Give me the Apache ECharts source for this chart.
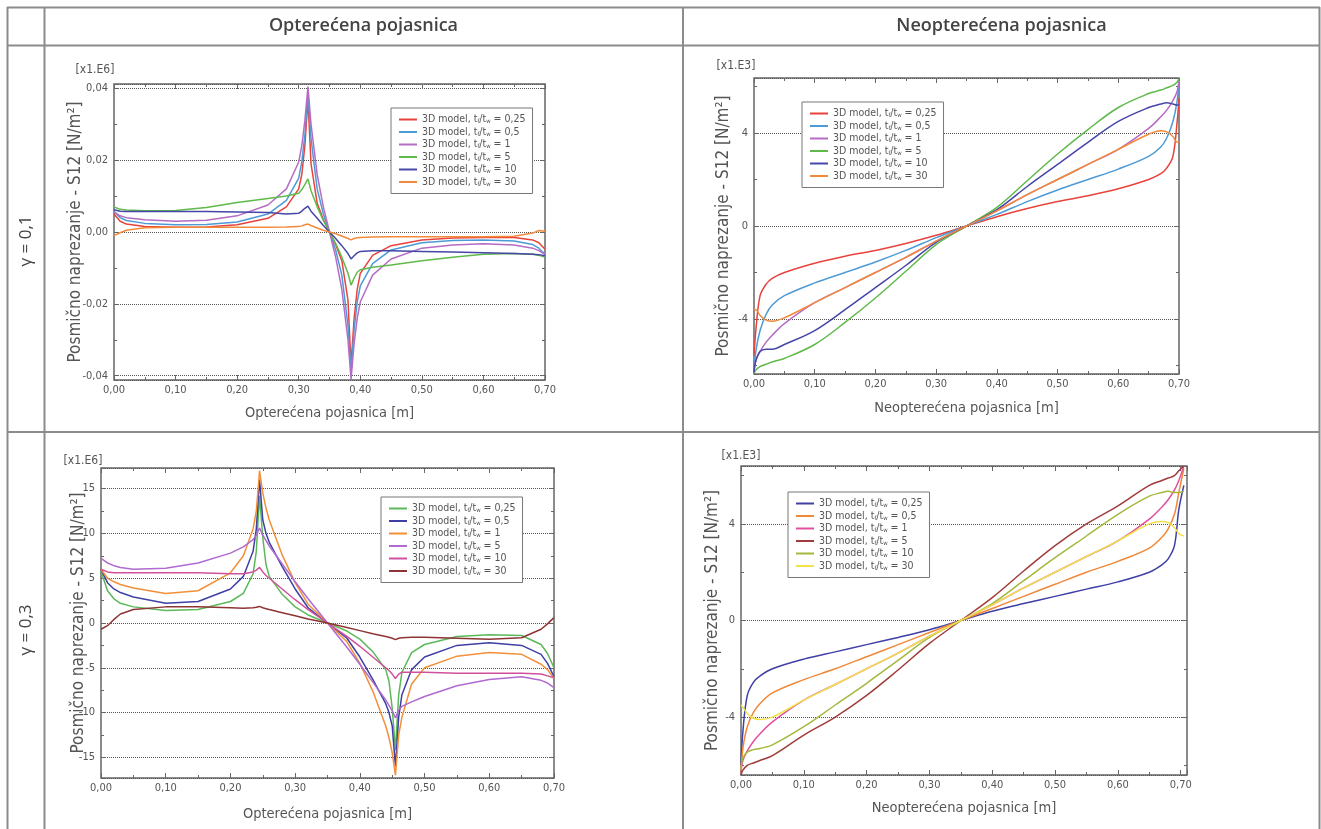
<!DOCTYPE html>
<html><head><meta charset="utf-8">
<script src="https://cdn.jsdelivr.net/npm/echarts@6/dist/echarts.min.js"></script>
<style>html,body{margin:0;padding:0;background:#fff;}#c{width:1321px;height:829px;}</style>
</head><body><div id="c"></div>
<script>
// ---------- DATA ----------
const ratioLabels = ['0,25', '0,5', '1', '5', '10', '30'];
const xTickLabels = ['0,00', '0,10', '0,20', '0,30', '0,40', '0,50', '0,60', '0,70'];

// Panel 1: γ = 0,1, Opterećena pojasnica (x1.E6)
const p1X = [0,0.01,0.02,0.05,0.1,0.15,0.2,0.25,0.28,0.3,0.305,0.31,0.315,0.32,0.33,0.34,0.35,0.36,0.37,0.38,0.385,0.39,0.395,0.4,0.42,0.45,0.5,0.55,0.6,0.65,0.68,0.69,0.7];
const p1_025 = [0.0050,0.0030,0.0022,0.0015,0.0013,0.0014,0.0020,0.0038,0.0070,0.0120,0.0160,0.0240,0.0370,0.0190,0.0080,0.0035,0,-0.0035,-0.0080,-0.0190,-0.0370,-0.0240,-0.0160,-0.0115,-0.0065,-0.0038,-0.0022,-0.0017,-0.0015,-0.0015,-0.0022,-0.0030,-0.0048];
const p1_05 = [0.0058,0.0040,0.0032,0.0024,0.0020,0.0021,0.0028,0.0050,0.0088,0.0150,0.0195,0.0270,0.0385,0.0260,0.0120,0.0050,0,-0.0050,-0.0120,-0.0260,-0.0385,-0.0270,-0.0195,-0.0150,-0.0088,-0.0050,-0.0030,-0.0024,-0.0022,-0.0025,-0.0035,-0.0045,-0.0062];
const p1_1 = [0.0055,0.0045,0.0040,0.0034,0.0030,0.0033,0.0045,0.0075,0.0120,0.0195,0.0240,0.0310,0.0405,0.0300,0.0160,0.0070,0,-0.0070,-0.0160,-0.0300,-0.0410,-0.0310,-0.0240,-0.0195,-0.0120,-0.0075,-0.0045,-0.0036,-0.0033,-0.0036,-0.0045,-0.0052,-0.0062];
const p1_5 = [0.0070,0.0063,0.0061,0.0059,0.0060,0.0068,0.0082,0.0093,0.0100,0.0108,0.0118,0.0132,0.0148,0.0115,0.0070,0.0032,0,-0.0032,-0.0070,-0.0115,-0.0148,-0.0128,-0.0112,-0.0105,-0.0098,-0.0092,-0.0080,-0.0070,-0.0062,-0.0060,-0.0062,-0.0065,-0.0070];
const p1_10 = [0.0062,0.0058,0.0057,0.0057,0.0057,0.0057,0.0056,0.0054,0.0050,0.0052,0.0058,0.0066,0.0072,0.0058,0.0038,0.0018,0,-0.0018,-0.0038,-0.0060,-0.0075,-0.0066,-0.0058,-0.0054,-0.0052,-0.0052,-0.0054,-0.0056,-0.0058,-0.0060,-0.0062,-0.0063,-0.0066];
const p1_30 = [-0.0010,-0.0002,0.0005,0.0012,0.0013,0.0013,0.0013,0.0013,0.0014,0.0015,0.0017,0.0020,0.0022,0.0018,0.0011,0.0005,0,-0.0005,-0.0011,-0.0018,-0.0022,-0.0018,-0.0016,-0.0015,-0.0014,-0.0013,-0.0013,-0.0013,-0.0013,-0.0012,-0.0003,0.0004,0.0002];

// Panel 2: γ = 0,1, Neopterećena pojasnica (x1.E3)
const p2X = [0,0.003,0.01,0.02,0.03,0.05,0.1,0.15,0.2,0.25,0.3,0.35,0.4,0.45,0.5,0.55,0.6,0.65,0.67,0.68,0.69,0.697,0.7];
const p2_025 = [-5.6,-4.5,-3.0,-2.5,-2.25,-2.0,-1.6,-1.3,-1.05,-0.75,-0.4,0,0.4,0.75,1.05,1.3,1.6,2.0,2.25,2.5,3.0,4.5,5.5];
const p2_05 = [-6.3,-5.4,-4.5,-3.8,-3.4,-3.0,-2.45,-2.0,-1.55,-1.05,-0.5,0,0.5,1.05,1.55,2.0,2.45,3.0,3.4,3.8,4.5,5.4,6.3];
const p2_1 = [-6.3,-5.8,-5.4,-5.0,-4.7,-4.2,-3.3,-2.65,-2.0,-1.35,-0.65,0,0.65,1.35,2.0,2.65,3.3,4.2,4.7,5.0,5.4,5.8,6.3];
const p2_5 = [-6.35,-6.2,-6.05,-5.95,-5.85,-5.7,-5.1,-4.15,-3.1,-1.95,-0.8,0,0.8,1.95,3.1,4.15,5.1,5.7,5.85,5.95,6.05,6.2,6.35];
const p2_10 = [-6.3,-5.8,-5.4,-5.3,-5.3,-5.1,-4.5,-3.6,-2.65,-1.7,-0.7,0,0.7,1.7,2.65,3.6,4.5,5.1,5.25,5.3,5.25,5.2,5.25];
const p2_30 = [-3.6,-3.6,-3.85,-4.05,-4.1,-3.95,-3.3,-2.65,-2.0,-1.35,-0.65,0,0.65,1.35,2.0,2.65,3.3,3.95,4.1,4.05,3.85,3.6,3.6];

// Panel 3: γ = 0,3, Opterećena pojasnica (x1.E6)
const p3X = [0,0.01,0.02,0.03,0.05,0.1,0.15,0.2,0.22,0.235,0.24,0.245,0.25,0.255,0.26,0.28,0.3,0.32,0.35,0.38,0.4,0.42,0.44,0.445,0.45,0.455,0.46,0.465,0.48,0.5,0.55,0.6,0.65,0.68,0.69,0.7];
const p3_025 = [5.8,3.6,2.7,2.2,1.8,1.4,1.5,2.4,3.3,5.5,8.0,14.2,9.5,6.5,5.2,3.2,1.8,0.9,0,-0.9,-1.8,-3.2,-5.2,-6.5,-9.5,-14.2,-8.0,-5.5,-3.3,-2.4,-1.5,-1.3,-1.4,-2.4,-3.4,-5.0];
const p3_05 = [6.0,4.5,3.8,3.4,2.9,2.2,2.4,3.8,5.2,8.0,10.5,16.0,11.5,10.0,9.0,6.3,3.8,1.7,0,-1.7,-3.8,-6.3,-9.0,-10.0,-11.5,-16.0,-10.5,-8.0,-5.2,-3.8,-2.5,-2.2,-2.5,-3.5,-4.5,-6.0];
const p3_1 = [6.0,5.0,4.6,4.3,3.9,3.3,3.6,5.6,7.5,10.5,12.5,17.0,14.5,12.8,11.5,7.6,4.5,2.1,0,-2.1,-4.5,-7.6,-11.5,-12.8,-14.5,-17.0,-12.5,-10.5,-6.8,-5.0,-3.7,-3.3,-3.5,-4.6,-5.2,-6.2];
const p3_5 = [7.2,6.7,6.4,6.2,6.0,6.1,6.7,7.8,8.5,9.3,9.8,10.6,9.8,9.2,8.6,6.6,4.6,2.7,0,-2.7,-4.6,-6.6,-8.6,-9.2,-9.8,-10.6,-9.7,-9.3,-8.8,-8.2,-7.0,-6.3,-6.0,-6.4,-6.7,-7.2];
const p3_10 = [6.0,5.7,5.6,5.6,5.6,5.6,5.6,5.5,5.5,5.7,5.9,6.2,5.7,5.3,5.0,3.8,2.6,1.5,0,-1.5,-2.6,-3.8,-5.0,-5.3,-5.7,-6.2,-5.7,-5.5,-5.5,-5.5,-5.6,-5.6,-5.6,-5.7,-5.9,-6.1];
const p3_30 = [-0.7,-0.3,0.4,1.0,1.5,1.8,1.8,1.7,1.65,1.7,1.75,1.85,1.7,1.6,1.5,1.15,0.8,0.45,0,-0.5,-0.85,-1.2,-1.5,-1.6,-1.7,-1.85,-1.7,-1.65,-1.6,-1.6,-1.7,-1.8,-1.65,-0.7,-0.1,0.6];

// Panel 4: γ = 0,3, Neopterećena pojasnica (x1.E3)
const p4X = [0,0.003,0.01,0.02,0.03,0.05,0.1,0.15,0.2,0.25,0.3,0.35,0.4,0.45,0.5,0.55,0.6,0.65,0.67,0.68,0.69,0.697,0.705];
const p4_025 = [-6.0,-4.6,-3.1,-2.55,-2.3,-2.0,-1.6,-1.3,-1.0,-0.7,-0.38,0,0.38,0.7,1.0,1.3,1.6,2.0,2.3,2.55,3.1,4.6,5.6];
const p4_05 = [-6.3,-5.3,-4.4,-3.8,-3.45,-3.0,-2.45,-2.0,-1.5,-1.0,-0.5,0,0.5,1.0,1.5,2.0,2.45,3.0,3.45,3.8,4.4,5.3,6.3];
const p4_1 = [-6.3,-5.8,-5.4,-5.0,-4.7,-4.2,-3.3,-2.65,-2.0,-1.35,-0.65,0,0.65,1.35,2.0,2.65,3.3,4.2,4.7,5.0,5.4,5.8,6.4];
const p4_5 = [-6.4,-6.2,-6.0,-5.9,-5.8,-5.6,-4.75,-4.0,-3.1,-2.05,-0.95,0,0.95,2.05,3.1,4.0,4.75,5.6,5.8,5.9,6.0,6.2,6.4];
const p4_10 = [-6.2,-5.7,-5.45,-5.35,-5.3,-5.15,-4.4,-3.5,-2.6,-1.65,-0.7,0,0.7,1.65,2.6,3.5,4.4,5.15,5.3,5.35,5.3,5.3,5.35];
const p4_30 = [-3.5,-3.6,-3.85,-4.05,-4.1,-4.0,-3.3,-2.65,-2.0,-1.35,-0.65,0,0.65,1.35,2.0,2.65,3.3,4.0,4.1,4.05,3.85,3.6,3.5];

// ---------- LAYOUT / STYLE ----------
const FONT = "'Liberation Sans Narrow','DejaVu Sans Condensed',sans-serif";
const LEGFONT = "'DejaVu Sans Condensed','Liberation Sans Narrow',sans-serif";
const TXT = '#555';
const panels = [
  {x: p1X, ys: [p1_025,p1_05,p1_1,p1_5,p1_10,p1_30],
   colors: ['#e8423c','#4d9bd6','#b46cc4','#5fba4a','#4646a8','#f28a3c'],
   grid: {left: 114, top: 84, width: 431, height: 296}, yMin: -0.0412, yMax: 0.0412, yStep: 0.02, yDec: 2,
   xMax: 0.70, xName: 'Opterećena pojasnica [m]', xGap: 26, yGap: 30, smooth: false,
   legend: {left: 391, top: 108}, unit: '[x1.E6]', unitPos: [95, 70]},
  {x: p2X, ys: [p2_025,p2_05,p2_1,p2_5,p2_10,p2_30],
   colors: ['#e8423c','#4d9bd6','#b46cc4','#5fba4a','#4646a8','#f28a3c'],
   grid: {left: 754, top: 78, width: 425, height: 296}, yMin: -6.37, yMax: 6.37, yStep: 4, yDec: 0,
   xMax: 0.70, xName: 'Neopterećena pojasnica [m]', xGap: 27, yGap: 22, smooth: 0.35,
   legend: {left: 802, top: 102}, unit: '[x1.E3]', unitPos: [736, 66]},
  {x: p3X, ys: [p3_025,p3_05,p3_1,p3_5,p3_10,p3_30],
   colors: ['#5cb85a','#3f3fa6','#f2903a','#b06ad0','#d0509c','#8e3434'],
   grid: {left: 101, top: 468, width: 453, height: 310}, yMin: -17.3, yMax: 17.3, yStep: 5, yDec: 0,
   xMax: 0.70, xName: 'Opterećena pojasnica [m]', xGap: 29, yGap: 14, smooth: false,
   legend: {left: 381, top: 497}, unit: '[x1.E6]', unitPos: [83, 461]},
  {x: p4X, ys: [p4_025,p4_05,p4_1,p4_5,p4_10,p4_30],
   colors: ['#3f3fa6','#f08838','#e0509c','#a03c3c','#a4b83c','#f2e24a'],
   grid: {left: 741, top: 466, width: 446, height: 309}, yMin: -6.4, yMax: 6.4, yStep: 4, yDec: 0,
   xMax: 0.71, xName: 'Neopterećena pojasnica [m]', xGap: 26, yGap: 20, smooth: 0.35,
   legend: {left: 788, top: 492}, unit: '[x1.E3]', unitPos: [741, 456]}
];

function isMultiple(v, step) { const k = v / step; return Math.abs(k - Math.round(k)) < 1e-6; }
function xFmt(v) { if (!isMultiple(v, 0.1)) return ''; const i = Math.round(v / 0.1); return xTickLabels[i] || ''; }
function yFmt(step, dec) {
  return v => { if (!isMultiple(v, step)) return ''; const r = Math.round(v / step) * step; return (r === 0 ? 0 : r).toFixed(dec).replace('.', ','); };
}

const grid = [], xAxis = [], yAxis = [], series = [], legend = [];
const tickStyle = {color: '#666', width: 1};
panels.forEach((p, i) => {
  grid.push(Object.assign({show: true, borderColor: '#666', borderWidth: 1.5, backgroundColor: 'transparent'}, p.grid));
  const xBase = {gridIndex: i, type: 'value', min: 0, max: p.xMax, minInterval: 0.1, maxInterval: 0.1,
    axisLine: {show: false, onZero: false}, splitLine: {show: false},
    axisTick: {inside: true, length: 5, lineStyle: tickStyle},
    minorTick: {show: true, splitNumber: 2, length: 3, lineStyle: tickStyle}};
  xAxis.push(Object.assign({}, xBase, {position: 'bottom',
    axisLabel: {formatter: xFmt, color: TXT, fontSize: 11, fontFamily: FONT, margin: 5},
    name: p.xName, nameLocation: 'middle', nameGap: p.xGap, nameMoveOverlap: false,
    nameTextStyle: {fontSize: 14.5, color: TXT, fontFamily: FONT}}));
  xAxis.push(Object.assign({}, xBase, {position: 'top', axisLabel: {show: false}}));
  const yBase = {gridIndex: i, type: 'value', min: p.yMin, max: p.yMax, minInterval: p.yStep, maxInterval: p.yStep,
    axisLine: {show: false, onZero: false},
    axisTick: {inside: true, length: 5, lineStyle: tickStyle},
    minorTick: {show: true, splitNumber: 2, length: 3, lineStyle: tickStyle}};
  yAxis.push(Object.assign({}, yBase, {position: 'left',
    splitLine: {show: true, lineStyle: {color: '#555', type: [1, 1], width: 1}},
    axisLabel: {formatter: yFmt(p.yStep, p.yDec), color: TXT, fontSize: 11, fontFamily: FONT, margin: 6},
    name: 'Posmično naprezanje - S12 [N/m²]', nameLocation: 'middle', nameGap: p.yGap, nameRotate: 90,
    nameMoveOverlap: false,
    nameTextStyle: {fontSize: 17, color: TXT, fontFamily: FONT}}));
  yAxis.push(Object.assign({}, yBase, {position: 'right', splitLine: {show: false}, axisLabel: {show: false}}));
  const names = [];
  p.ys.forEach((vals, j) => {
    const name = 'p' + i + '_' + j;
    names.push(name);
    series.push({name, type: 'line', xAxisIndex: 2 * i, yAxisIndex: 2 * i, showSymbol: false, symbol: 'none',
      smooth: p.smooth, color: p.colors[j], lineStyle: {width: 1.5, color: p.colors[j]},
      data: p.x.map((x, k) => [x, vals[k]])});
  });
  legend.push({left: p.legend.left, top: p.legend.top, orient: 'vertical', data: names, selectedMode: false,
    icon: 'rect', itemWidth: 18, itemHeight: 2, itemGap: 1.5, padding: [6, 7, 6, 8],
    borderColor: '#777', borderWidth: 1, backgroundColor: '#fff',
    formatter: name => '3D model, t{s|f}/t{s|w} = ' + ratioLabels[+name.split('_')[1]],
    textStyle: {fontSize: 10.5, lineHeight: 11, color: TXT, fontFamily: LEGFONT,
      rich: {s: {fontSize: 6, lineHeight: 11, padding: [4, 0, 0, 0], color: TXT, fontFamily: LEGFONT}}}});
});

const lineStyle = {stroke: '#8c8c8c', lineWidth: 2};
const HFONT = "600 18px 'Open Sans', sans-serif";
const graphic = [
  {type: 'line', shape: {x1: 7, y1: 7.5, x2: 1320, y2: 7.5}, style: lineStyle},
  {type: 'line', shape: {x1: 7, y1: 45.5, x2: 1320, y2: 45.5}, style: lineStyle},
  {type: 'line', shape: {x1: 7, y1: 432, x2: 1320, y2: 432}, style: lineStyle},
  {type: 'line', shape: {x1: 7.5, y1: 7, x2: 7.5, y2: 829}, style: lineStyle},
  {type: 'line', shape: {x1: 44.5, y1: 7, x2: 44.5, y2: 829}, style: lineStyle},
  {type: 'line', shape: {x1: 683, y1: 7, x2: 683, y2: 829}, style: lineStyle},
  {type: 'line', shape: {x1: 1319.5, y1: 7, x2: 1319.5, y2: 829}, style: lineStyle},
  {type: 'text', x: 363.5, y: 26, style: {text: 'Opterećena pojasnica', font: HFONT, fill: '#444', textAlign: 'center', textVerticalAlign: 'middle'}},
  {type: 'text', x: 1001.5, y: 26, style: {text: 'Neopterećena pojasnica', font: HFONT, fill: '#444', textAlign: 'center', textVerticalAlign: 'middle'}},
  {type: 'text', x: 26, y: 241, rotation: Math.PI / 2, style: {text: 'γ = 0,1', font: "17px 'Open Sans', sans-serif", fill: '#444', textAlign: 'center', textVerticalAlign: 'middle'}},
  {type: 'text', x: 26, y: 630, rotation: Math.PI / 2, style: {text: 'γ = 0,3', font: "17px 'Open Sans', sans-serif", fill: '#444', textAlign: 'center', textVerticalAlign: 'middle'}}
];
panels.forEach(p => {
  graphic.push({type: 'text', x: p.unitPos[0], y: p.unitPos[1], style: {text: p.unit, font: "12px " + FONT, fill: TXT, textAlign: 'center', textVerticalAlign: 'middle'}});
});

const chart = echarts.init(document.getElementById('c'));
chart.setOption({animation: false, backgroundColor: '#fff', grid, xAxis, yAxis, series, legend, graphic});
</script></body></html>
